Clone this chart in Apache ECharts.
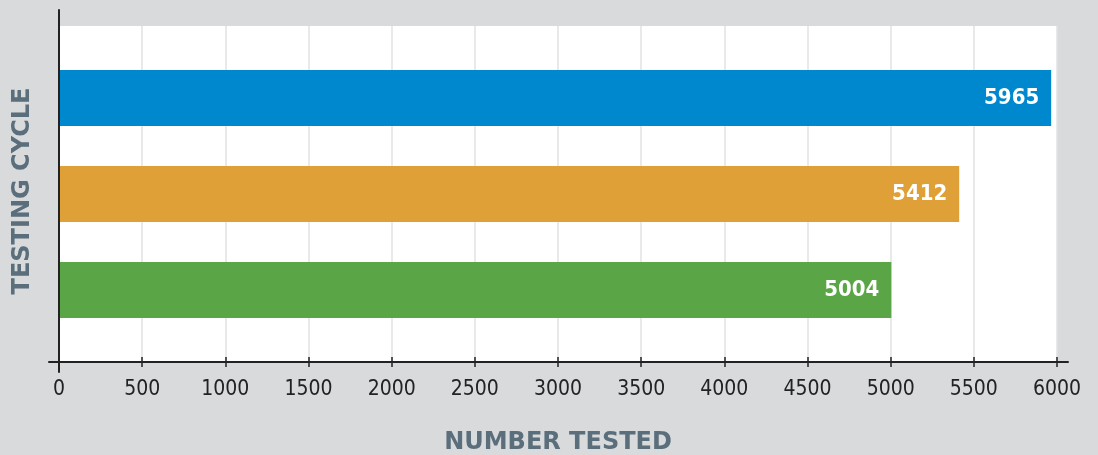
<!DOCTYPE html>
<html>
<head>
<meta charset="utf-8">
<script src="https://cdn.jsdelivr.net/npm/echarts@6/dist/echarts.min.js"></script>
<style>
  html, body { margin: 0; padding: 0; background: #d9dadc; }
  #chart { width: 1098px; height: 455px; }
</style>
</head>
<body>
<div id="chart"></div>
<script>
// 데이터 (위에서 아래 순서)
const cycles = ['Cycle 3', 'Cycle 2', 'Cycle 1'];
const tested = [5965, 5412, 5004];
const barColors = ['#0088cf', '#dfa038', '#5aa646'];
const xTicks = [0, 6000, 500]; // min, max, interval

// 막대 사이에 빈 칸을 끼워서 간격을 맞춘다
const yCats = [''];
const yData = ['-'];
cycles.forEach(function (c, i) {
  yCats.push(c, ' '.repeat(i + 1));
  yData.push({ value: tested[i], itemStyle: { color: barColors[i] } }, '-');
});
yCats.reverse();
yData.reverse();

const axisColor = '#222';
const nameColor = '#5a6e7b';
const font = 'DejaVu Sans';

const chart = echarts.init(document.getElementById('chart'));
chart.setOption({
  backgroundColor: '#d9dadc',
  animation: false,
  grid: [
    { left: 49, right: 30, top: 10, bottom: 93, outerBoundsMode: 'none' },   // x 축선
    { left: 59, right: 41, top: 10, bottom: 83, outerBoundsMode: 'none' },   // y 축선
    { left: 59, right: 41, top: 26, bottom: 93, outerBoundsMode: 'none',
      show: true, backgroundColor: '#fff', borderWidth: 0 }
  ],
  xAxis: [
    {
      gridIndex: 0, type: 'value', z: 5,
      axisLine: { show: true, onZero: false, lineStyle: { color: axisColor, width: 2 } },
      axisTick: { show: false }, axisLabel: { show: false }, splitLine: { show: false }
    },
    { gridIndex: 1, type: 'value', show: false },
    {
      gridIndex: 2, type: 'value', min: xTicks[0], max: xTicks[1], interval: xTicks[2],
      axisLine: { show: false },
      axisTick: { show: true, inside: true, length: 5, lineStyle: { color: axisColor, width: 1.5 } },
      axisLabel: {
        margin: 17, color: '#222', fontSize: 21, fontFamily: 'DejaVu Sans Condensed, ' + font,
        formatter: function (v) { return String(v); }
      },
      splitLine: { show: true, lineStyle: { color: '#e2e2e2', width: 1.5 } },
      name: 'NUMBER TESTED', nameLocation: 'middle', nameGap: 69,
      nameTextStyle: { color: nameColor, fontSize: 24, fontWeight: 'bold', fontFamily: font }
    },
    {
      gridIndex: 2, type: 'value', min: xTicks[0], max: xTicks[1], interval: xTicks[2], position: 'bottom',
      axisLine: { show: false },
      axisTick: { show: true, length: 5, lineStyle: { color: axisColor, width: 1.5 } },
      axisLabel: { show: false }, splitLine: { show: false }
    }
  ],
  yAxis: [
    { gridIndex: 0, type: 'value', show: false },
    {
      gridIndex: 1, type: 'value', z: 5,
      axisLine: { show: true, onZero: false, lineStyle: { color: axisColor, width: 2 } },
      axisTick: { show: false }, axisLabel: { show: false }, splitLine: { show: false },
      name: 'TESTING CYCLE', nameLocation: 'middle', nameGap: 24,
      nameTextStyle: { color: nameColor, fontSize: 24, fontWeight: 'bold', fontFamily: font }
    },
    {
      gridIndex: 2, type: 'category', data: yCats, show: false
    }
  ],
  series: [{
    type: 'bar',
    xAxisIndex: 2,
    yAxisIndex: 2,
    data: yData,
    barWidth: 56,
    label: {
      show: true,
      position: 'insideRight',
      distance: 12,
      color: '#fff',
      fontSize: 22,
      fontWeight: 'bold',
      fontFamily: 'DejaVu Sans Condensed, ' + font
    }
  }]
});
</script>
</body>
</html>
